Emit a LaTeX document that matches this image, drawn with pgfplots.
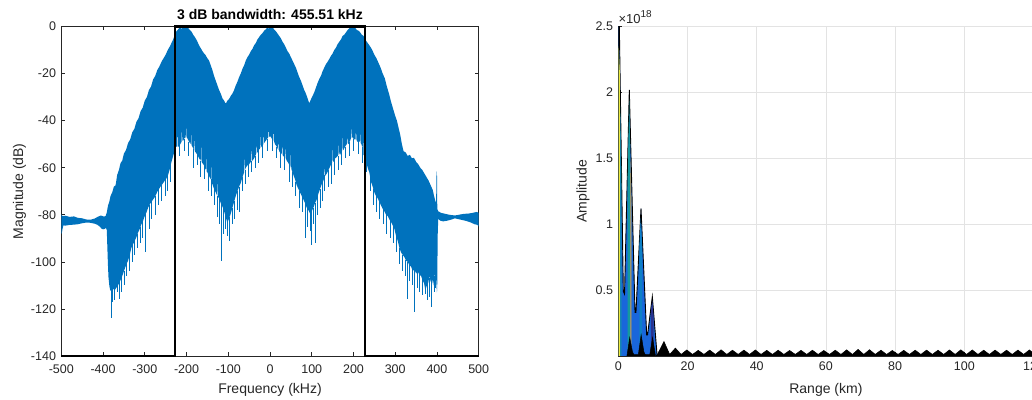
\documentclass[border=0pt]{standalone}
\usepackage{fontspec}
\setmainfont{Liberation Sans}
\usepackage{pgfplots}
\pgfplotsset{compat=1.18}
\definecolor{mblue}{HTML}{0072BD}
\definecolor{axgray}{HTML}{262626}
\definecolor{gridc}{HTML}{E3E3E3}
\definecolor{pblue}{rgb}{0.10,0.40,0.86}
\definecolor{pteal}{rgb}{0.08,0.60,0.62}
\definecolor{porange}{rgb}{0.86,0.66,0.24}
\definecolor{pyellow}{rgb}{0.93,0.92,0.25}
\definecolor{pnavy}{rgb}{0.16,0.20,0.56}
\definecolor{pteal2}{rgb}{0.05,0.50,0.78}
\begin{document}
\begin{tikzpicture}
\useasboundingbox (0,0) rectangle (1032bp,400bp);
\clip (0,0) rectangle (1032bp,400bp);
\pgfplotsset{
  mstyle/.style={
    scale only axis,
    anchor=south west,
    /pgf/number format/assume math mode=true,
    tick align=inside,
    major tick length=4bp,
    axis line style={draw=axgray, line width=0.6bp},
    major tick style={draw=axgray, line width=0.6bp},
    tick label style={font=\fontsize{12.5bp}{14bp}\selectfont, text=axgray},
    label style={font=\fontsize{14bp}{16bp}\selectfont, text=axgray},
    yticklabel style={anchor=east, xshift=-1.8bp},
  }
}
% ---------------- left: spectrum ----------------
\begin{axis}[mstyle,
  at={(61.3bp,44bp)}, width=417.4bp, height=329.5bp,
  xmin=-500, xmax=500, ymin=-140, ymax=0,
  xtick={-500,-400,-300,-200,-100,0,100,200,300,400,500},
  xticklabels={-500,-400,-300,-200,-100,0,100,200,300,400,500},
  ytick={-140,-120,-100,-80,-60,-40,-20,0},
  yticklabels={-140,-120,-100,-80,-60,-40,-20,0},
  xticklabel style={anchor=base, yshift=-17.5bp},
  xlabel={Frequency (kHz)}, ylabel={Magnitude (dB)},
  xlabel style={at={(axis description cs:0.5,-0.1123)}, anchor=base},
  ylabel style={at={(axis description cs:-0.0916,0.5)}, anchor=base},
  title={3 dB bandwidth: 455.51 kHz},
  title style={font=\bfseries\fontsize{14bp}{16bp}\selectfont, at={(axis description cs:0.5,1)}, anchor=base, yshift=1bp},
  clip=false,
]
\addplot[fill=mblue, draw=none] coordinates {
(-500,-79.8) (-497,-80.6) (-490,-80.4) (-480,-80.9) (-470,-80.7) (-460,-81.3) (-450,-81.5) (-440,-82.0) (-430,-82.1) (-420,-81.6) (-412,-80.8) (-405,-80.3) (-399,-80.7) (-394,-80.6) (-391,-79) (-388,-76) (-385,-74.5) (-382,-72) (-378,-70.5) (-374,-68) (-370,-67.5) (-366,-63) (-362,-61) (-358,-58) (-354,-57) (-350,-54) (-345,-52.5) (-340,-49.5) (-335,-48) (-330,-45) (-325,-43.5) (-320,-40.5) (-315,-39) (-310,-36) (-305,-34.5) (-300,-31.5) (-295,-30) (-290,-27) (-285,-25.5) (-280,-22.5) (-275,-21) (-270,-18.5) (-265,-17) (-260,-15) (-255,-13.5) (-250,-12) (-245,-10) (-240,-8.5) (-236,-7) (-232,-5.5) (-228,-3.5) (-224,-2) (-220,-1.2) (-216,-0.3) (-212,-1.0) (-208,0) (-204,-0.8) (-200,0) (-196,-0.6) (-192,-1.5) (-188,-2.2) (-184,-3.5) (-180,-4.5) (-175,-6) (-170,-8) (-165,-9.5) (-160,-11) (-155,-12) (-150,-13.5) (-146,-14.5) (-142,-16.5) (-138,-18.5) (-134,-21) (-130,-23) (-126,-25) (-122,-27) (-118,-28.5) (-114,-30.5) (-110,-31.5) (-106,-32.8) (-102,-31.5) (-98,-30.8) (-94,-29.5) (-90,-28.5) (-86,-27) (-82,-25) (-78,-23.5) (-74,-21.5) (-70,-20) (-66,-18) (-62,-16.5) (-58,-14.5) (-54,-13) (-50,-12) (-46,-10.5) (-42,-9.5) (-38,-8) (-34,-7) (-30,-5.5) (-26,-4.5) (-22,-3.5) (-18,-2.8) (-14,-1.8) (-10,-1.2) (-6,-0.3) (-3,-1) (0,0) (3,-0.6) (6,-0.2) (10,-1.3) (14,-2) (18,-3) (22,-4) (26,-5) (30,-6.5) (34,-7.5) (38,-9) (42,-10.5) (46,-11.5) (50,-13) (54,-14.5) (58,-16) (62,-17.5) (66,-19.5) (70,-21.5) (74,-23) (78,-25) (82,-27) (86,-28.5) (90,-30.5) (94,-32.6) (98,-31) (102,-29.5) (106,-28) (110,-26) (114,-24) (118,-22.3) (122,-21) (126,-19) (130,-17.5) (134,-16) (138,-15) (142,-13.8) (146,-12.5) (150,-11.5) (154,-10) (158,-9) (162,-7.5) (166,-6.5) (170,-5.5) (174,-4) (178,-3.5) (182,-2.5) (186,-1.5) (190,-0.8) (194,0) (197,-0.8) (200,0) (204,-0.5) (208,-1.5) (212,-1.8) (216,-2.5) (220,-3.5) (224,-4) (228,-5.5) (232,-6.5) (236,-7.5) (240,-8.5) (245,-10) (250,-12) (255,-13.5) (260,-15.5) (265,-17.5) (270,-20) (275,-22) (280,-25.5) (285,-28.5) (290,-32) (295,-35) (300,-38) (304,-40) (308,-43) (312,-46) (316,-50) (320,-53) (325,-53.5) (330,-55) (335,-54.5) (340,-56) (345,-55.8) (350,-57.5) (355,-58.5) (360,-60) (365,-61) (370,-62.5) (375,-64) (380,-65.5) (385,-67.5) (390,-69.5) (393,-72) (396,-74) (398,-75) (399,-62) (400,-61.5) (400.8,-77.5) (403,-78.5) (410,-79.2) (420,-79.6) (430,-80) (443,-80.3) (455,-79.9) (465,-79.6) (475,-79.5) (485,-79.2) (495,-78.8) (500,-79.2)
(500,-85) (497,-84.3) (490,-84) (480,-83.2) (470,-82.6) (460,-82.2) (450,-81.8) (443,-81.5) (435,-82) (425,-82.5) (415,-82.8) (408,-82.5) (403,-81.8) (401.5,-90) (401,-108) (400,-113) (399,-110) (397,-104) (394,-106) (391,-110) (388,-107) (385,-108.5) (382,-106) (379,-109) (376,-110) (372,-112) (369,-109) (366,-108) (362,-106) (358,-105.5) (354,-104) (350,-105) (346,-103) (342,-104) (338,-102) (334,-101.5) (330,-100) (326,-99.5) (322,-98) (318,-97) (314,-96) (310,-94) (306,-91) (302,-89) (298,-86) (294,-84.5) (290,-83) (286,-82) (282,-80.5) (278,-80) (274,-78.5) (270,-77.5) (266,-76) (262,-74.5) (258,-73) (254,-72) (250,-70.5) (246,-68) (242,-66) (238,-62) (234,-60) (230,-57) (226,-55) (224,-54.5) (223,-46) (222,-52) (219,-50)
(217,-49.5) (216,-44) (215,-49) (212,-48.5) (209,-49) (207,-48) (206,-42) (205,-48) (202,-48) (199,-47.5) (197,-47) (196,-41) (195,-47) (192,-48.5) (188,-50) (186,-49.5) (185,-45) (184,-50) (180,-51) (176,-52.5) (175,-52.5) (174,-45) (173,-53) (172,-53) (168,-54.5) (166,-54) (165,-49) (164,-54.5) (160,-55.5) (156,-56) (152,-57.5) (151,-57.5) (150,-50) (149,-58) (148,-58) (144,-59.5) (140,-61) (136,-62.5) (132,-63.5) (131,-64) (130,-56) (129,-65) (128,-65.5) (124,-67) (120,-69) (116,-71) (112,-73.5) (108,-75) (104,-77) (100,-78.5) (96,-79.5) (92,-78) (88,-77) (84,-75) (80,-73.5) (76,-72) (72,-70.5) (68,-69) (64,-67.5) (60,-65) (56,-63) (52,-61) (51,-60.5) (50,-52) (49,-60) (48,-59.5) (44,-58) (40,-57)
(38,-56) (37,-49) (36,-56) (32,-55) (31,-55) (30,-47) (29,-54.5) (28,-54) (24,-53.5) (22,-53) (21,-46) (20,-52.5) (16,-51) (12,-50) (10,-49) (9,-41) (8,-48.5) (4,-47.5) (0,-46.5) (-2,-47) (-3,-41.5) (-4,-47) (-8,-48) (-12,-49) (-14,-49.5) (-15,-43) (-16,-50) (-20,-51) (-22,-51.5) (-23,-44) (-24,-52) (-25,-52) (-30,-53.5) (-32,-54) (-33,-47) (-34,-54.5) (-38,-56) (-42,-57) (-44,-57) (-45,-48) (-46,-57.5) (-50,-58.5) (-54,-59) (-58,-60) (-60,-61) (-61,-52) (-62,-62) (-66,-64) (-70,-66.5) (-74,-68) (-78,-70) (-82,-72) (-86,-74.5) (-90,-77) (-94,-79.5) (-98,-81.5) (-102,-83.5) (-106,-81) (-110,-78.5) (-114,-76.5) (-118,-75) (-122,-73) (-124,-72.5) (-125,-63) (-126,-72) (-130,-70.5) (-134,-69) (-138,-67) (-140,-66) (-141,-57) (-142,-65) (-146,-63.5) (-150,-62)
(-152,-61.5) (-153,-54) (-154,-61) (-158,-59) (-162,-58) (-164,-57.5) (-165,-49) (-166,-57) (-170,-56) (-174,-54.5) (-178,-53.5) (-180,-53) (-181,-45) (-182,-52.5) (-186,-51) (-188,-50.5) (-189,-44) (-190,-50) (-194,-49) (-198,-47.5) (-200,-47) (-201,-41.5) (-202,-47) (-205,-47.5) (-208,-48.5) (-210,-48.5) (-211,-42) (-212,-49) (-215,-50) (-218,-51) (-220,-51) (-221,-41) (-222,-51) (-225,-51) (-228,-52.5) (-232,-55) (-236,-57.5) (-240,-60.5) (-244,-63) (-248,-64.5) (-252,-65.5) (-256,-66.5) (-260,-67.5) (-264,-68.5) (-268,-69.5) (-272,-71) (-276,-72.5) (-280,-73.5) (-284,-74.5) (-288,-75.5) (-292,-77) (-296,-79) (-300,-80.5) (-304,-82.5) (-308,-84) (-312,-86) (-316,-87.5) (-320,-89.5) (-324,-91) (-328,-92.5) (-332,-94) (-336,-97) (-340,-99.5) (-344,-101) (-348,-103) (-352,-105) (-356,-107) (-360,-108.5) (-364,-110) (-368,-111) (-372,-112) (-376,-111.5) (-380,-112.5) (-383,-112) (-385,-110) (-387,-106.5) (-388.5,-100) (-390,-92) (-391,-86.5) (-393,-85.6) (-396,-86) (-400,-86.2) (-404,-85.8) (-408,-85) (-414,-84.2) (-420,-83.8) (-430,-83.4) (-440,-83.3) (-450,-83.6) (-460,-84) (-470,-84.2) (-480,-84.3) (-490,-84.6) (-495,-84.5) (-497,-86) (-499,-88) (-500,-88)
};
\addplot[mblue, line width=0.8bp, unbounded coords=jump] coordinates {
(-381,-112) (-381,-124) (-381,nan) (-377,-111) (-377,-117) (-377,nan) (-372,-111) (-372,-116) (-372,nan) (-365,-109) (-365,-113) (-365,nan) (-360,-108) (-360,-115.6) (-360,nan) (-355,-106) (-355,-113) (-355,nan) (-350,-104) (-350,-110) (-350,nan) (-343,-100) (-343,-106) (-343,nan) (-336,-96) (-336,-104) (-336,nan) (-330,-93) (-330,-100) (-330,nan) (-324,-90) (-324,-97) (-324,nan) (-318,-88) (-318,-94) (-318,nan) (-311,-85) (-311,-92) (-311,nan) (-305,-82) (-305,-90) (-305,nan) (-298,-79) (-298,-96) (-298,nan) (-290,-76) (-290,-86) (-290,nan) (-283,-74) (-283,-82) (-283,nan) (-275,-72) (-275,-80) (-275,nan) (-268,-69) (-268,-76) (-268,nan) (-259,-67) (-259,-74) (-259,nan) (-250,-65) (-250,-72) (-250,nan) (-245,-63) (-245,-70) (-245,nan) (-238,-59) (-238,-66) (-238,nan)
(-226,-51) (-226,-56) (-226,nan) (-217,-50) (-217,-55) (-217,nan) (-206,-48) (-206,-53) (-206,nan) (-195,-49) (-195,-55) (-195,nan) (-183,-52) (-183,-60) (-183,nan) (-175,-54) (-175,-59) (-175,nan) (-166,-57) (-166,-64) (-166,nan) (-158,-59) (-158,-65) (-158,nan) (-148,-62) (-148,-70) (-148,nan) (-141,-65) (-141,-72) (-141,nan) (-133,-69) (-133,-76) (-133,nan) (-126,-72) (-126,-81) (-126,nan) (-121,-73) (-121,-84) (-121,nan) (-117,-75) (-117,-99.5) (-117,nan) (-112,-77) (-112,-88) (-112,nan) (-108,-80) (-108,-86) (-108,nan) (-103,-83) (-103,-89) (-103,nan) (-97,-81) (-97,-91) (-97,nan) (-91,-77) (-91,-84) (-91,nan) (-85,-74) (-85,-82) (-85,nan) (-79,-70) (-79,-78) (-79,nan) (-73,-68) (-73,-79) (-73,nan) (-66,-64) (-66,-70) (-66,nan) (-60,-61) (-60,-67) (-60,nan) (-52,-58) (-52,-64) (-52,nan) (-44,-57) (-44,-62) (-44,nan) (-36,-55) (-36,-60) (-36,nan) (-27,-52) (-27,-58) (-27,nan) (-18,-50) (-18,-56) (-18,nan) (-7,-48) (-7,-53) (-7,nan)
(5,-47) (5,-53) (5,nan) (15,-51) (15,-56) (15,nan) (26,-53) (26,-60) (26,nan) (35,-55) (35,-61) (35,nan) (46,-58) (46,-66) (46,nan) (54,-62) (54,-68) (54,nan) (62,-66) (62,-72) (62,nan) (70,-70) (70,-77) (70,nan) (78,-72) (78,-79) (78,nan) (84,-75) (84,-90) (84,nan) (90,-77) (90,-85) (90,nan) (96,-79) (96,-87) (96,nan) (100,-78) (100,-93) (100,nan) (104,-77) (104,-84) (104,nan) (108,-75) (108,-92) (108,nan) (114,-72) (114,-80) (114,nan) (120,-69) (120,-77) (120,nan) (126,-66) (126,-74) (126,nan) (131,-63) (131,-70) (131,nan) (139,-61) (139,-68) (139,nan) (146,-58) (146,-67) (146,nan) (155,-56) (155,-63) (155,nan) (163,-55) (163,-61) (163,nan) (171,-53) (171,-59) (171,nan) (181,-51) (181,-56) (181,nan) (190,-49) (190,-55) (190,nan) (200,-48) (200,-53) (200,nan) (211,-48) (211,-54) (211,nan) (221,-51) (221,-58) (221,nan)
(232,-57) (232,-62) (232,nan) (240,-63) (240,-70) (240,nan) (248,-69) (248,-76) (248,nan) (256,-72) (256,-79) (256,nan) (263,-74) (263,-82) (263,nan) (272,-77) (272,-84) (272,nan) (280,-80) (280,-88) (280,nan) (288,-82) (288,-90) (288,nan) (295,-84) (295,-92) (295,nan) (303,-89) (303,-96) (303,nan) (311,-94) (311,-101) (311,nan) (318,-97) (318,-104) (318,nan) (324,-99) (324,-106) (324,nan) (329,-100) (329,-115.7) (329,nan) (335,-101) (335,-108) (335,nan) (341,-103) (341,-110) (341,nan) (347,-103) (347,-121.4) (347,nan) (353,-104) (353,-111) (353,nan) (359,-105) (359,-113) (359,nan) (365,-107) (365,-114) (365,nan) (373,-111) (373,-113.5) (373,nan) (378,-109) (378,-116) (378,nan) (383,-107) (383,-115) (383,nan) (387,-107) (387,-119.3) (387,nan) (393,-106) (393,-113) (393,nan) (397,-104) (397,-111)
};
\addplot[black, line width=2.2bp] coordinates {
(-500,-140) (-227.75,-140) (-227.75,0) (227.75,0) (227.75,-140) (500,-140)
};
\end{axis}
% ---------------- right: range profile ----------------
\begin{axis}[mstyle, name=rax,
  at={(618.3bp,44bp)}, width=415.2bp, height=329.5bp,
  axis lines*=left,
  xmin=0, xmax=120, ymin=0, ymax=2.5,
  xtick={0,20,40,60,80,100,120},
  xticklabels={0,20,40,60,80,100,120},
  ytick={0.5,1,1.5,2,2.5},
  yticklabels={0.5,1,1.5,2,2.5},
  xticklabel style={anchor=base, yshift=-14.5bp},
  grid=major, major grid style={draw=gridc, line width=0.6bp},
  xlabel={Range (km)}, ylabel={Amplitude},
  xlabel style={at={(axis description cs:0.5,-0.1133)}, anchor=base},
  ylabel style={at={(axis description cs:-0.0766,0.5)}, anchor=base},
]
\addplot[fill=pblue, draw=black, line width=0.9bp] coordinates {
(0,0) (0,2.5) (0.3,2.5) (1.45,0.49) (1.8,0.47) (3.18,2.02) (4.83,0.33) (5.1,0.33) (6.56,1.12) (8.2,0.16) (8.45,0.16) (9.83,0.45) (11.2,0.01) (11.5,0)
};
\addplot[fill=pyellow, draw=none] coordinates {(0.1,0) (0.1,2.35) (0.45,2.15) (0.45,0)};
\addplot[fill=pteal, draw=none] coordinates {(0.6,0) (0.6,1.9) (0.9,1.35) (0.9,0)};
\addplot[fill=pteal, draw=none] coordinates {(2.7,0) (2.7,1.35) (3.15,1.95) (3.45,1.55) (3.45,0)};
\addplot[fill=porange, draw=none] coordinates {(3.5,0) (3.5,1.5) (3.8,1.15) (3.8,0)};
\addplot[fill=pteal2, draw=none] coordinates {(6.1,0) (6.1,0.85) (6.5,1.05) (6.85,0.85) (6.85,0)};
\addplot[fill=pnavy, draw=none] coordinates {(9.4,0) (9.4,0.33) (9.8,0.42) (10.2,0.3) (10.2,0)};
\addplot[fill=black, draw=black, line width=0.5bp] coordinates {
(2.5,0) (3.3,0.14) (4.1,0.03) (4.5,0.01) (5.8,0.01) (6.6,0.16) (7.4,0.03) (7.8,0.01) (9.1,0.01) (9.9,0.14) (10.7,0.01) (10.7,0)
};
\addplot[fill=black, draw=black, line width=0.5bp] coordinates {
(10.8,0) (11.3,0.012) (13.2,0.11) (14.85,0.012) (16.5,0.06) (18.15,0.012) (19.8,0.046) (21.45,0.012) (23.1,0.043) (24.75,0.012) (26.4,0.045) (28.05,0.012) (29.7,0.047) (31.35,0.012) (33.0,0.044) (34.65,0.012) (36.3,0.045) (37.95,0.012) (39.6,0.046) (41.25,0.012) (42.9,0.043) (44.55,0.012) (46.2,0.044) (47.85,0.012) (49.5,0.042) (51.15,0.012) (52.8,0.043) (54.45,0.012) (56.1,0.044) (57.75,0.012) (59.4,0.042) (61.05,0.012) (62.7,0.044) (64.35,0.012) (66.0,0.047) (67.65,0.012) (69.3,0.05) (70.95,0.012) (72.6,0.048) (74.25,0.012) (75.9,0.044) (77.55,0.012) (79.2,0.042) (80.85,0.012) (82.5,0.043) (84.15,0.012) (85.8,0.044) (87.45,0.012) (89.1,0.045) (90.75,0.012) (92.4,0.044) (94.05,0.012) (95.7,0.046) (97.35,0.012) (99.0,0.047) (100.65,0.012) (102.3,0.046) (103.95,0.012) (105.6,0.044) (107.25,0.012) (108.9,0.045) (110.55,0.012) (112.2,0.044) (113.85,0.012) (115.5,0.045) (117.15,0.012) (118.8,0.046) (120.45,0.012) (122.1,0.045) (123,0)
};
\end{axis}
\node[anchor=base west, inner sep=0pt, text=axgray] at ([yshift=3.3bp]rax.north west) {\fontsize{13bp}{15bp}\selectfont ×10\raisebox{6bp}{\fontsize{10bp}{11bp}\selectfont 18}};
\end{tikzpicture}
\end{document}
